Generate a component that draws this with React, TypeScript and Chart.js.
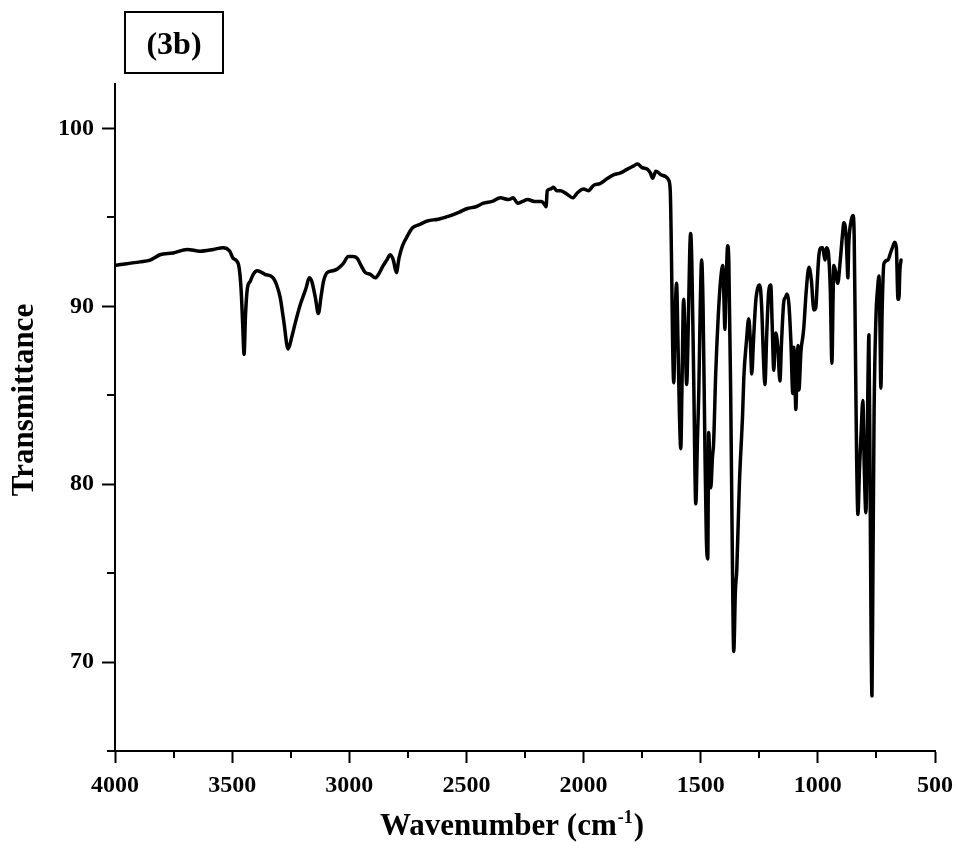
import React, { useEffect, useRef } from "react";
import { Chart, registerables } from "chart.js";

Chart.register(...registerables);

const wavenumbers = [
  4000, 3950, 3893, 3850, 3808, 3752, 3692, 3637, 3580, 3538, 3510, 3496, 3474, 3462, 3455, 3449, 3443, 3435, 3423, 3410,
  3393, 3360, 3325, 3310, 3295, 3280, 3261, 3245, 3230, 3209, 3185, 3171, 3160, 3145, 3132, 3120, 3110, 3094, 3070, 3051,
  3026, 3004, 2985, 2966, 2950, 2932, 2910, 2889, 2875, 2859, 2840, 2825, 2812, 2799, 2788, 2773, 2750, 2731, 2700, 2667,
  2620, 2568, 2530, 2496, 2460, 2427, 2390, 2355, 2320, 2300, 2282, 2260, 2239, 2210, 2180, 2165, 2160, 2155, 2140, 2128,
  2115, 2098, 2070, 2047, 2025, 2000, 1980, 1957, 1930, 1897, 1870, 1842, 1815, 1786, 1770, 1750, 1727, 1715, 1705, 1692,
  1670, 1650, 1637, 1630, 1625, 1620, 1615, 1609, 1603, 1597, 1591, 1585, 1580, 1573, 1566, 1560, 1553, 1547, 1543, 1538,
  1530, 1521, 1514, 1508, 1502, 1496, 1490, 1482, 1476, 1470, 1466, 1460, 1457, 1450, 1445, 1436, 1425, 1415, 1406, 1400,
  1397, 1392, 1385, 1380, 1372, 1365, 1359, 1352, 1346, 1335, 1321, 1316, 1305, 1295, 1288, 1282, 1275, 1265, 1255, 1248,
  1240, 1232, 1226, 1218, 1210, 1201, 1195, 1188, 1183, 1179, 1170, 1162, 1155, 1145, 1138, 1132, 1124, 1115, 1107, 1103,
  1098, 1094, 1089, 1085, 1081, 1072, 1064, 1060, 1050, 1038, 1028, 1017, 1009, 1002, 996, 985, 979, 970, 962, 955,
  947, 940, 935, 932, 925, 915, 905, 895, 889, 880, 875, 872, 868, 858, 850, 845, 840, 835, 829, 822,
  815, 808, 802, 795, 789, 782, 777, 773, 769, 765, 760, 752, 745, 739, 735, 731, 726, 718, 701, 690,
  679, 672, 665, 658, 654, 650, 645,
];

const transmittance = [
  92.3, 92.4, 92.5, 92.6, 92.9, 93.0, 93.2, 93.1, 93.2, 93.3, 93.1, 92.7, 92.4, 91.0, 89.0, 87.3, 89.5, 91.0, 91.4, 91.8,
  92.0, 91.8, 91.6, 91.2, 90.5, 89.2, 87.6, 88.3, 89.1, 90.1, 91.0, 91.6, 91.4, 90.5, 89.6, 90.6, 91.4, 91.9, 92.0, 92.1,
  92.4, 92.8, 92.8, 92.7, 92.3, 91.9, 91.8, 91.6, 91.8, 92.2, 92.6, 92.9, 92.6, 91.9, 92.7, 93.4, 94.0, 94.4, 94.6, 94.8,
  94.9, 95.1, 95.3, 95.5, 95.6, 95.8, 95.9, 96.1, 96.0, 96.1, 95.8, 95.9, 96.0, 95.9, 95.9, 95.7, 95.6, 96.5, 96.6, 96.7,
  96.5, 96.5, 96.3, 96.1, 96.4, 96.6, 96.5, 96.8, 96.9, 97.2, 97.4, 97.5, 97.7, 97.9, 98.0, 97.8, 97.7, 97.5, 97.2, 97.6,
  97.4, 97.3, 97.1, 96.5, 93.0, 88.0, 85.7, 89.5, 91.3, 88.0, 84.0, 82.0, 85.5, 90.4, 88.0, 85.6, 89.0, 93.0, 94.1, 92.5,
  86.0, 78.9, 82.5, 85.3, 90.0, 92.6, 90.0, 82.0, 77.0, 75.8, 82.9, 80.5, 79.8, 81.5, 82.3, 86.2, 89.5, 91.5, 92.3, 90.0,
  88.7, 91.0, 93.4, 92.5, 85.0, 76.0, 70.6, 74.0, 75.2, 80.0, 84.0, 86.0, 88.0, 89.3, 88.0, 86.2, 88.0, 90.3, 91.1, 91.2,
  90.0, 87.0, 85.6, 88.5, 90.8, 91.2, 89.0, 86.4, 88.0, 88.5, 87.5, 85.8, 88.0, 90.3, 90.5, 90.7, 90.2, 88.0, 85.1, 87.7,
  86.0, 84.2, 86.5, 87.8, 85.3, 87.5, 88.3, 88.8, 90.8, 92.2, 91.5, 89.8, 89.9, 91.5, 92.8, 93.3, 93.3, 92.6, 93.3, 93.0,
  91.0, 86.8, 90.5, 92.3, 92.0, 91.3, 92.5, 94.0, 94.7, 94.0, 92.5, 91.6, 93.5, 94.8, 95.1, 94.0, 88.0, 82.0, 78.3, 81.0,
  83.0, 84.7, 81.0, 78.4, 83.0, 88.4, 80.0, 72.0, 68.1, 75.0, 84.0, 89.4, 91.0, 91.7, 89.0, 85.4, 89.5, 92.4, 92.6, 93.0,
  93.4, 93.6, 93.3, 90.4, 90.4, 92.0, 92.6,
];

const xMajorTicks = [4000, 3500, 3000, 2500, 2000, 1500, 1000, 500];
const xMinorTicks = [3750, 3250, 2750, 2250, 1750, 1250, 750];
const yMajorTicks = [70, 80, 90, 100];
const yMinorTicks = [65, 75, 85, 95];

const panelLabel = "(3b)";
const yTitle = "Transmittance";
const xTitleMain = "Wavenumber (cm";
const xTitleSup = "-1";
const xTitleEnd = ")";

const FONT = '"Liberation Serif", "Times New Roman", serif';

const decorPlugin = {
  id: "decor",
  afterDraw(chart: any) {
    const ctx = chart.ctx as CanvasRenderingContext2D;
    const xs = chart.scales.x;
    const ys = chart.scales.y;
    const { left, bottom } = chart.chartArea;
    ctx.save();
    ctx.strokeStyle = "#000";
    ctx.fillStyle = "#000";
    ctx.lineWidth = 2;
    ctx.beginPath();
    for (const v of xMinorTicks) {
      const px = Math.round(xs.getPixelForValue(v));
      ctx.moveTo(px, bottom);
      ctx.lineTo(px, bottom + 7);
    }
    for (const v of yMinorTicks) {
      const py = Math.round(ys.getPixelForValue(v));
      ctx.moveTo(left, py);
      ctx.lineTo(left - 8, py);
    }
    ctx.stroke();

    // panel label box
    ctx.strokeRect(125, 12, 98, 61);
    ctx.font = `bold 32px ${FONT}`;
    ctx.textAlign = "center";
    ctx.textBaseline = "alphabetic";
    ctx.fillText(panelLabel, 174, 54);

    // y title
    ctx.save();
    ctx.translate(33, 400);
    ctx.rotate(-Math.PI / 2);
    ctx.font = `bold 31px ${FONT}`;
    ctx.textAlign = "center";
    ctx.fillText(yTitle, 0, 0);
    ctx.restore();

    // x title with superscript
    const mainFont = `bold 31px ${FONT}`;
    const supFont = `bold 18px ${FONT}`;
    ctx.font = mainFont;
    const w1 = ctx.measureText(xTitleMain).width;
    const w3 = ctx.measureText(xTitleEnd).width;
    ctx.font = supFont;
    const w2 = ctx.measureText(xTitleSup).width;
    const total = w1 + w2 + w3 + 2;
    let x0 = 512 - total / 2;
    const base = 835;
    ctx.textAlign = "left";
    ctx.font = mainFont;
    ctx.fillText(xTitleMain, x0, base);
    x0 += w1 + 1;
    ctx.font = supFont;
    ctx.fillText(xTitleSup, x0, base - 12);
    x0 += w2 + 1;
    ctx.font = mainFont;
    ctx.fillText(xTitleEnd, x0, base);
    ctx.restore();
  },
};

export default function App() {
  const ref = useRef<HTMLCanvasElement | null>(null);

  useEffect(() => {
    document.body.style.margin = "0";
    const canvas = ref.current;
    if (!canvas) return;
    const chart = new Chart(canvas, {
      type: "line",
      data: {
        datasets: [
          {
            data: wavenumbers.map((w, i) => ({ x: w, y: transmittance[i] })),
            borderColor: "#000",
            borderWidth: 3.5,
            pointRadius: 0,
            fill: false,
            cubicInterpolationMode: "monotone",
            borderJoinStyle: "round",
            borderCapStyle: "round",
          },
        ],
      },
      options: {
        responsive: false,
        animation: false,
        devicePixelRatio: 1,
        layout: { autoPadding: false, padding: { top: 84, right: 23, left: 0, bottom: 0 } },
        plugins: { legend: { display: false }, tooltip: { enabled: false }, title: { display: false } },
        scales: {
          x: {
            type: "linear",
            reverse: true,
            min: 500,
            max: 4000,
            afterBuildTicks: (s: any) => {
              s.ticks = xMajorTicks.map((v) => ({ value: v }));
            },
            afterFit: (s: any) => {
              s.height = 101;
              s.paddingLeft = 0;
              s.paddingRight = 0;
            },
            grid: { drawOnChartArea: false, drawTicks: true, tickLength: 12, tickWidth: 2, tickColor: "#000" },
            border: { display: true, color: "#000", width: 2 },
            ticks: {
              color: "#000",
              font: { family: FONT, size: 24, weight: "bold" },
              padding: 8,
              maxRotation: 0,
              autoSkip: false,
              callback: (v: any) => String(v),
            },
          },
          y: {
            type: "linear",
            min: 65,
            max: 102.5,
            afterBuildTicks: (s: any) => {
              s.ticks = yMajorTicks.map((v) => ({ value: v }));
            },
            afterFit: (s: any) => {
              s.width = 115;
              s.paddingTop = 0;
              s.paddingBottom = 0;
            },
            grid: { drawOnChartArea: false, drawTicks: true, tickLength: 13, tickWidth: 2, tickColor: "#000" },
            border: { display: true, color: "#000", width: 2 },
            ticks: {
              color: "#000",
              font: { family: FONT, size: 24, weight: "bold" },
              padding: 8,
              autoSkip: false,
              callback: (v: any) => String(v),
            },
          },
        },
      },
      plugins: [decorPlugin],
    } as any);
    return () => chart.destroy();
  }, []);

  return (
    <div style={{ width: 958, height: 852, background: "#fff" }}>
      <canvas ref={ref} width={958} height={852} style={{ display: "block" }} />
    </div>
  );
}
